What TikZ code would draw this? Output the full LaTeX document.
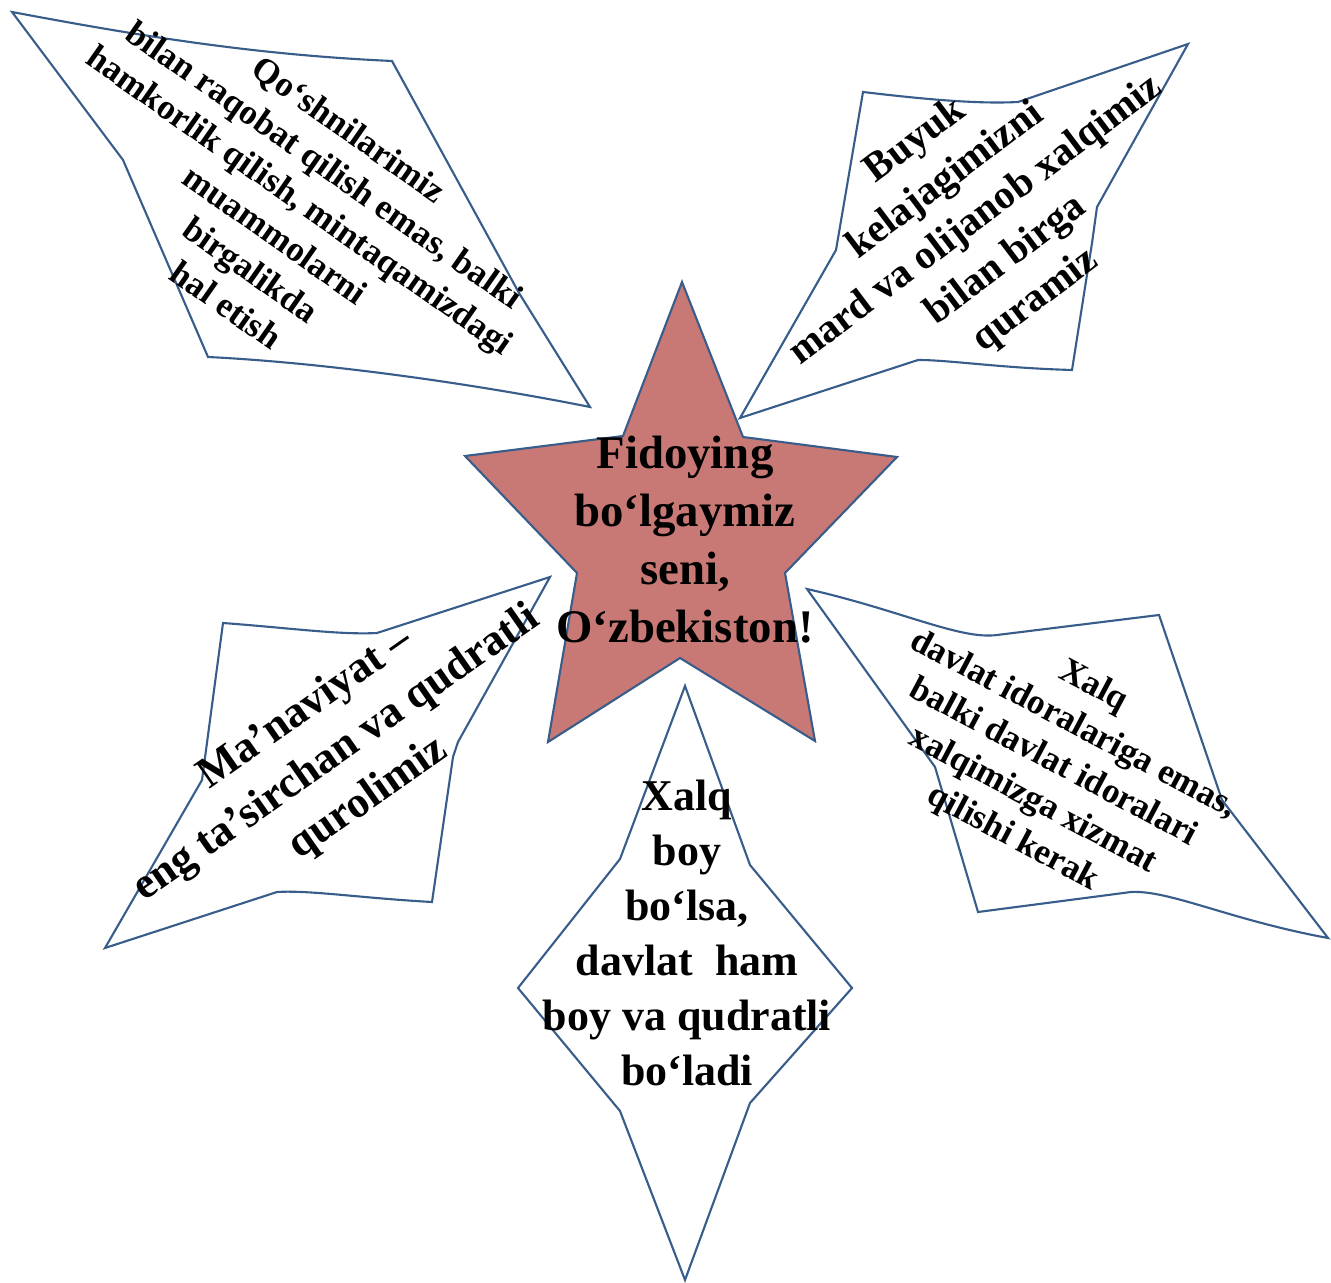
\documentclass[tikz,border=0pt]{standalone}
\usepackage{fontspec}
\setmainfont{Liberation Serif}
\definecolor{edgeblue}{RGB}{56,93,138}
\definecolor{starred}{RGB}{201,121,117}
\tikzset{
  leaf/.style={draw=edgeblue, line width=0.6pt, line join=miter, fill=white},
  motto/.style={align=center, inner sep=0pt},
}
\newcommand\mottofont[2]{\fontsize{#1}{#2}\selectfont\bfseries}

\begin{document}
\begin{tikzpicture}[x=0.01cm, y=-0.01cm]
        \useasboundingbox (0,0) rectangle (1331,1283);

        \filldraw[leaf, fill=starred] (682,282) -- (743,437) -- (897,457) -- (785,573) -- (815,741)
                -- (680,658) -- (548,742) -- (577,573) -- (465,456) -- (623,436) -- cycle;

        \filldraw[leaf] (12,12) .. controls (150,38) and (260,55) .. (392,61) -- (519,293) -- (590,407)
                .. controls (480,385) and (330,363) .. (208,357) -- (123,160) -- cycle;
        \filldraw[leaf] (740,418) -- (836,250) -- (863,92) .. controls (930,100) and (980,104) .. (1018,102)
                -- (1188,44) -- (1097,207) -- (1092,243) -- (1072,370)
                .. controls (1000,368) and (950,360) .. (918,360) -- cycle;
        \filldraw[leaf] (105,948) -- (202,780) -- (223,623) .. controls (290,628) and (340,635) .. (377,633)
                -- (550,577) -- (458,742) -- (453,757) -- (432,902)
                .. controls (360,898) and (310,890) .. (277,892) -- cycle;
        \filldraw[leaf] (807,589) .. controls (900,610) and (960,640) .. (997,635) -- (1159,615)
                -- (1222,800) -- (1328,938) .. controls (1230,920) and (1170,890) .. (1131,892)
                -- (978,912) -- (935,767) -- cycle;
        \filldraw[leaf] (685,686) -- (620,859) -- (518,988) -- (620,1111) -- (685,1280)
                -- (750,1103) -- (852,988) -- (750,865) -- cycle;

        \node[motto, font=\mottofont{13.3}{16.5}] (homeland) at (685,540)
                {Fidoying\\bo‘lgaymiz\\seni,\\O‘zbekiston!};
        \node[motto, rotate=-35, font=\mottofont{10}{12.2}] (neighbours) at (288,217)
                {Qo‘shnilarimiz\\bilan raqobat qilish emas, balki\\hamkorlik qilish, mintaqamizdagi\\muammolarni\\birgalikda\\hal etish};
        \node[motto, rotate=37, font=\mottofont{11.5}{14.2}] (future) at (976,221)
                {Buyuk\\kelajagimizni\\mard va olijanob xalqimiz\\bilan birga\\quramiz};
        \node[motto, rotate=35, font=\mottofont{12.5}{15.6}] (spirit) at (337,754)
                {Ma’naviyat –\\eng ta’sirchan va qudratli\\qurolimiz};
        \node[motto, rotate=-28, font=\mottofont{10}{12.2}] (service) at (1053,763)
                {Xalq\\davlat idoralariga emas,\\balki davlat idoralari\\xalqimizga xizmat\\qilishi kerak};
        \node[motto, font=\mottofont{12.5}{15.6}] (wealth) at (687,933)
                {Xalq\\boy\\bo‘lsa,\\davlat~ ham\\boy va qudratli\\bo‘ladi};
\end{tikzpicture}
\end{document}
